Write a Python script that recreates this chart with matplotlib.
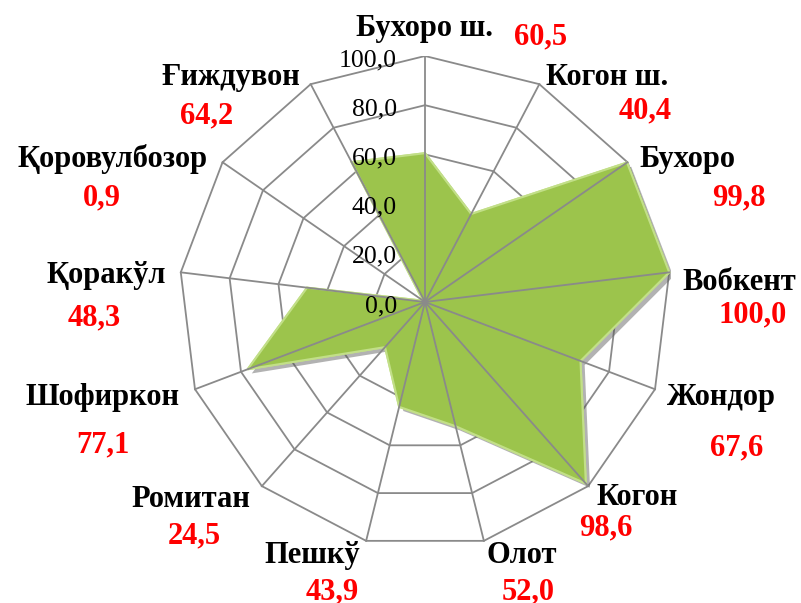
import numpy as np
import matplotlib
matplotlib.use("Agg")
import matplotlib.pyplot as plt
import matplotlib.patheffects as pe

categories = ["Бухоро ш.", "Когон ш.", "Бухоро", "Вобкент", "Жондор", "Когон",
              "Олот", "Пешкў", "Ромитан", "Шофиркон", "Қоракўл", "Қоровулбозор",
              "Ғиждувон"]
values = [60.5, 40.4, 99.8, 100.0, 67.6, 98.6, 52.0, 43.9, 24.5, 77.1, 48.3, 0.9, 64.2]
value_labels = ["60,5", "40,4", "99,8", "100,0", "67,6", "98,6", "52,0", "43,9",
                "24,5", "77,1", "48,3", "0,9", "64,2"]
ticks = [0, 20, 40, 60, 80, 100]
tick_labels = ["0,0", "20,0", "40,0", "60,0", "80,0", "100,0"]

# label placement (pixel offsets from the outer vertex, y measured downwards)
name_off = [(0, -20), (68, 1), (60, 5), (70, 18), (66, 16), (49, 19), (38, 22),
            (-54, 22), (-71, 21), (-92, 16), (-75, 11), (-110, 5), (-80, 1)]
val_off = [(116, -12), (106, 34), (111, 43), (83, 50), (82, 66), (18, 49), (44, 59),
           (-34, 59), (-68, 57), (-92, 63), (-87, 53), (-121, 43), (-104, 39)]

serif = ["Liberation Serif", "DejaVu Serif"]
grey = "#8a8a8a"

n = len(categories)
ang = np.arange(n) * 2 * np.pi / n


def xy(r, a):
    return np.asarray(r) * np.sin(a), np.asarray(r) * np.cos(a)


fig = plt.figure(figsize=(8.01, 6.03), dpi=100)
ax = fig.add_axes([(425 - 246) / 801, (603 - 302 - 246) / 603, 492 / 801, 492 / 603])
ax.set_xlim(-100, 100)
ax.set_ylim(-100, 100)
ax.axis("off")

# polygon rings
for t in ticks[1:]:
    rx, ry = xy(np.full(n + 1, t), np.append(ang, ang[0]))
    ax.plot(rx, ry, color=grey, lw=1.3, zorder=1)

# filled series
vx, vy = xy(values, ang)
ax.fill(vx, vy, facecolor="#9cc44c", edgecolor="#c2df88", lw=1.5, zorder=2,
        path_effects=[pe.withSimplePatchShadow(offset=(3, -3), shadow_rgbFace="#555555", alpha=0.45),
                      pe.Normal()])

# spokes
for a in ang:
    sx, sy = xy([0, 100], a)
    ax.plot(sx, sy, color=grey, lw=1.3, zorder=3)

# radial tick labels
for t, lab in zip(ticks, tick_labels):
    ax.annotate(lab, (0, t), xytext=(-28, -10), textcoords="offset pixels",
                ha="right", va="baseline", fontsize=18.5, family=serif, zorder=4,
                annotation_clip=False)

# category names and values
for i in range(n):
    px, py = xy(100, ang[i])
    nx, ny = name_off[i]
    vx_, vy_ = val_off[i]
    ax.annotate(categories[i], (px, py), xytext=(nx, -ny), textcoords="offset pixels",
                ha="center", va="baseline", fontsize=22, fontweight="bold",
                family=serif, annotation_clip=False)
    ax.annotate(value_labels[i], (px, py), xytext=(vx_, -vy_), textcoords="offset pixels",
                ha="center", va="baseline", fontsize=22, fontweight="bold",
                color="#ff0000", family=serif, annotation_clip=False)

fig.savefig("out.png", dpi=100)
